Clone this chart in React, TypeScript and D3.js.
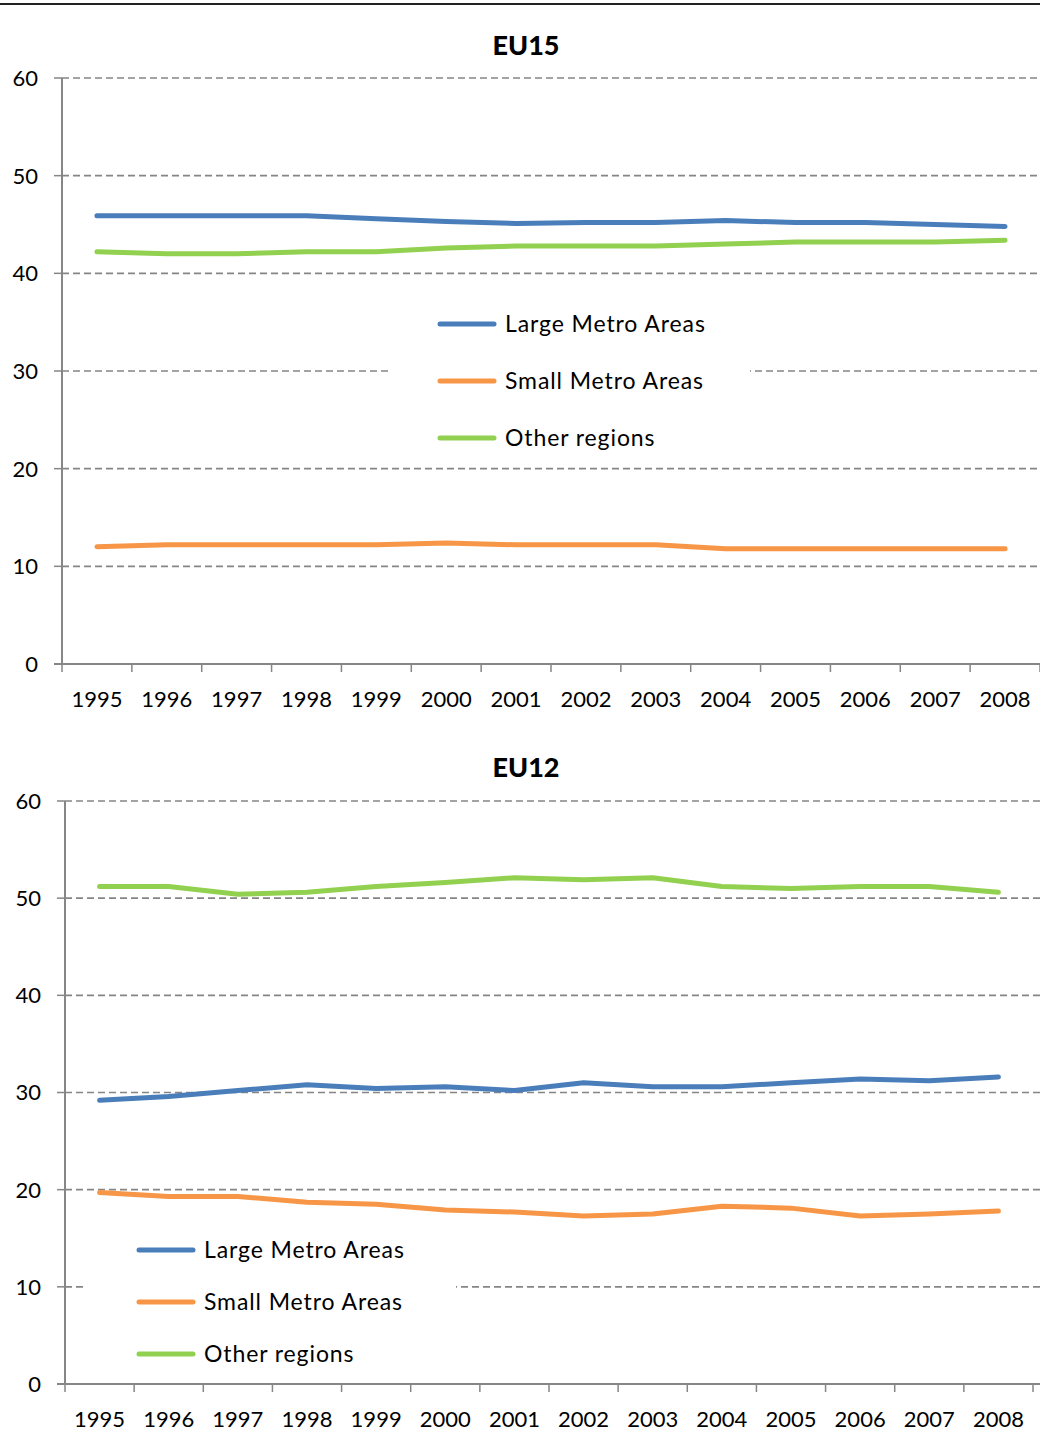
import React from 'react';
import * as d3 from 'd3';

/* ── Data ─────────────────────────────────────────────────────── */
const years = ['1995', '1996', '1997', '1998', '1999', '2000', '2001', '2002', '2003', '2004', '2005', '2006', '2007', '2008'];
const yTicks = [0, 10, 20, 30, 40, 50, 60];
const seriesNames = ['Large Metro Areas', 'Small Metro Areas', 'Other regions'];
const seriesColors = ['#4a7ebb', '#f79646', '#92d050'];

const eu15Large = [45.9, 45.9, 45.9, 45.9, 45.6, 45.3, 45.1, 45.2, 45.2, 45.4, 45.2, 45.2, 45.0, 44.8];
const eu15Small = [12.0, 12.2, 12.2, 12.2, 12.2, 12.4, 12.2, 12.2, 12.2, 11.8, 11.8, 11.8, 11.8, 11.8];
const eu15Other = [42.2, 42.0, 42.0, 42.2, 42.2, 42.6, 42.8, 42.8, 42.8, 43.0, 43.2, 43.2, 43.2, 43.4];

const eu12Large = [29.2, 29.6, 30.2, 30.8, 30.4, 30.6, 30.2, 31.0, 30.6, 30.6, 31.0, 31.4, 31.2, 31.6];
const eu12Small = [19.7, 19.3, 19.3, 18.7, 18.5, 17.9, 17.7, 17.3, 17.5, 18.3, 18.1, 17.3, 17.5, 17.8];
const eu12Other = [51.2, 51.2, 50.4, 50.6, 51.2, 51.6, 52.1, 51.9, 52.1, 51.2, 51.0, 51.2, 51.2, 50.6];

const FONT = 'Lato, "DejaVu Sans", sans-serif';

interface PanelProps {
  title: string;
  series: number[][];
  titleY: number;
  top: number;
  bottom: number;
  left: number;
  right: number;
  legend: { x: number; y: number; w: number; h: number; lineX: number; firstY: number; step: number };
}

/* ── One line chart panel ─────────────────────────────────────── */
const Panel: React.FC<PanelProps> = ({ title, series, titleY, top, bottom, left, right, legend }) => {
  const x = d3.scaleBand<string>().domain(years).range([left, right]).padding(0);
  const y = d3.scaleLinear().domain([0, 60]).range([bottom, top]);
  const line = d3
    .line<number>()
    .x((_, i) => x(years[i])! + x.bandwidth() / 2)
    .y(d => y(d));

  return (
    <g>
      <text x={526} y={titleY} textAnchor="middle" fontFamily={FONT} fontWeight="900" fontSize={27} fill="#000">
        {title}
      </text>

      {/* gridlines */}
      {yTicks.filter(t => t > 0).map(t => (
        <line key={t} x1={left} x2={1040} y1={y(t)} y2={y(t)} stroke="#858585" strokeWidth={1.6} strokeDasharray="7 4" />
      ))}

      {/* legend background */}
      <rect x={legend.x} y={legend.y} width={legend.w} height={legend.h} fill="#fff" />

      {/* y axis */}
      <line x1={left} x2={left} y1={top} y2={bottom} stroke="#868686" strokeWidth={2} />
      {yTicks.map(t => (
        <g key={t}>
          <line x1={left - 8} x2={left} y1={y(t)} y2={y(t)} stroke="#868686" strokeWidth={1.5} />
          <text x={left - 24} y={y(t)} dy="0.36em" textAnchor="end" fontFamily={FONT} fontSize={22} fill="#000">
            {t}
          </text>
        </g>
      ))}

      {/* x axis */}
      <line x1={left - 8} x2={1040} y1={bottom} y2={bottom} stroke="#868686" strokeWidth={2} />
      {years.map(yr => (
        <g key={yr}>
          <line x1={x(yr)!} x2={x(yr)!} y1={bottom} y2={bottom + 8} stroke="#868686" strokeWidth={1.5} />
          <text
            x={x(yr)! + x.bandwidth() / 2}
            y={bottom + 35}
            dy="0.36em"
            textAnchor="middle"
            fontFamily={FONT}
            fontSize={22}
            fill="#000"
          >
            {yr}
          </text>
        </g>
      ))}
      <line x1={right} x2={right} y1={bottom} y2={bottom + 8} stroke="#868686" strokeWidth={1.5} />

      {/* series */}
      {series.map((s, i) => (
        <path
          key={i}
          d={line(s) || ''}
          fill="none"
          stroke={seriesColors[i]}
          strokeWidth={5}
          strokeLinecap="round"
          strokeLinejoin="round"
        />
      ))}

      {/* legend */}
      {seriesNames.map((name, i) => {
        const ly = legend.firstY + i * legend.step;
        return (
          <g key={name}>
            <line x1={legend.lineX} x2={legend.lineX + 54} y1={ly} y2={ly} stroke={seriesColors[i]} strokeWidth={5} strokeLinecap="round" />
            <text x={legend.lineX + 65} y={ly} dy="0.36em" fontFamily={FONT} fontSize={23} letterSpacing={0.9} fill="#000">
              {name}
            </text>
          </g>
        );
      })}
    </g>
  );
};

export default function App() {
  return (
    <div style={{ position: 'absolute', left: 0, top: 0 }}>
      <svg width={1040} height={1435} style={{ display: 'block', background: '#fff' }}>
        <line x1={0} x2={1040} y1={4} y2={4} stroke="#222" strokeWidth={2} />
        <Panel
          title="EU15"
          series={[eu15Large, eu15Small, eu15Other]}
          titleY={55}
          top={78}
          bottom={664}
          left={62}
          right={1040}
          legend={{ x: 392, y: 300, w: 358, h: 155, lineX: 440, firstY: 324, step: 57 }}
        />
        <Panel
          title="EU12"
          series={[eu12Large, eu12Small, eu12Other]}
          titleY={777}
          top={801}
          bottom={1384}
          left={65}
          right={1033}
          legend={{ x: 86, y: 1215, w: 370, h: 160, lineX: 139, firstY: 1250, step: 52 }}
        />
      </svg>
    </div>
  );
}
